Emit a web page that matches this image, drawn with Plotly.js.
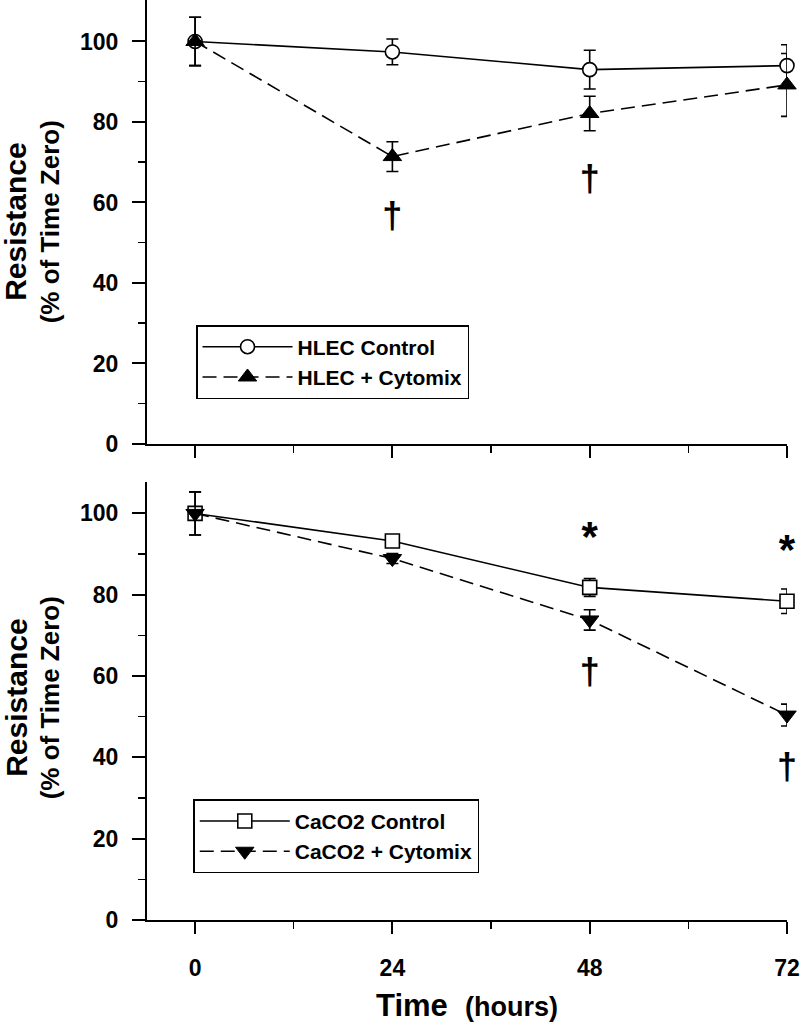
<!DOCTYPE html>
<html><head><meta charset="utf-8">
<script src="https://cdn.plot.ly/plotly-3.0.1.min.js"></script>
<style>html,body{margin:0;padding:0;background:#fff}</style>
</head><body><div id="chart" style="width:800px;height:1026px"></div>
<script>
// ---- data ----
const hours = [0, 24, 48, 72];
const hlecControl = [100, 97.4, 93.0, 94.0];
const hlecControlErr = [6.0, 3.2, 4.8, 5.2];
const hlecCytomix = [100, 71.4, 82.1, 89.2];
const hlecCytomixErr = [6.0, 3.7, 4.3, 7.8];
const cacoControl = [100, 93.2, 81.8, 78.4];
const cacoControlErr = [5.3, 0.8, 2.2, 3.0];
const cacoCytomix = [100, 88.9, 73.8, 50.4];
const cacoCytomixErr = [5.3, 1.2, 2.5, 2.7];
const topDaggerX = [24, 48];
const topDaggerY = [56.0, 65.1];
const botDaggerX = [48, 72];
const botDaggerY = [60.2, 37.0];
const botStarX = [48, 72];
const botStarY = [93.3, 90.2];
const xTicks = [0, 24, 48, 72];
const xMinor = [12, 36, 60];
const yTicks = [0, 20, 40, 60, 80, 100];
const yMinor = [10, 30, 50, 70, 90];

const FONT = 'Liberation Sans, Arial, Helvetica, sans-serif';
function err(a){return {type:'data', array:a, visible:true, color:'#000', thickness:1.6, width:6};}

const traces = [
  {x:hours, y:hlecControl, name:'HLEC Control', xaxis:'x', yaxis:'y', legend:'legend',
   mode:'lines+markers', line:{color:'#000', width:1.6},
   marker:{symbol:'circle', size:14, color:'#fff', line:{color:'#000', width:1.6}},
   error_y:err(hlecControlErr), cliponaxis:false},
  {x:hours, y:hlecCytomix, name:'HLEC + Cytomix', xaxis:'x', yaxis:'y', legend:'legend',
   mode:'lines+markers', line:{color:'#000', width:1.6, dash:'14px,7px'},
   marker:{symbol:'triangle-up', size:16, color:'#000', line:{color:'#000', width:1}},
   error_y:err(hlecCytomixErr), cliponaxis:false},
  {x:topDaggerX, y:topDaggerY, xaxis:'x', yaxis:'y', mode:'text', text:topDaggerX.map(()=>'†'),
   textfont:{family:FONT, size:36, weight:'bold', color:'#000000'}, showlegend:false, cliponaxis:false, hoverinfo:'skip'},
  {x:hours, y:cacoControl, name:'CaCO2 Control', xaxis:'x2', yaxis:'y2', legend:'legend2',
   mode:'lines+markers', line:{color:'#000', width:1.6},
   marker:{symbol:'square', size:14, color:'#fff', line:{color:'#000', width:1.6}},
   error_y:err(cacoControlErr), cliponaxis:false},
  {x:hours, y:cacoCytomix, name:'CaCO2 + Cytomix', xaxis:'x2', yaxis:'y2', legend:'legend2',
   mode:'lines+markers', line:{color:'#000', width:1.6, dash:'14px,7px'},
   marker:{symbol:'triangle-down', size:16, color:'#000', line:{color:'#000', width:1}},
   error_y:err(cacoCytomixErr), cliponaxis:false},
  {x:botDaggerX, y:botDaggerY, xaxis:'x2', yaxis:'y2', mode:'text', text:botDaggerX.map(()=>'†'),
   textfont:{family:FONT, size:36, weight:'bold', color:'#000000'}, showlegend:false, cliponaxis:false, hoverinfo:'skip'},
  {x:botStarX, y:botStarY, xaxis:'x2', yaxis:'y2', mode:'text', text:botStarX.map(()=>'*'),
   textfont:{family:FONT, size:42, weight:'bold', color:'#000000'}, showlegend:false, cliponaxis:false, hoverinfo:'skip'}
];

function xax(anchor, labels){
  return {anchor:anchor, domain:[0,1], range:[-5.85,72], showline:true, linecolor:'#000', linewidth:2,
    ticks:'outside', ticklen:12, tickwidth:2, tickcolor:'#000', tickmode:'array', tickvals:xTicks,
    showticklabels:labels, tickfont:{family:FONT, size:23, weight:'bold', color:'#000'}, ticklabelstandoff:14,
    showgrid:false, zeroline:false,
    minor:{tickmode:'array', tickvals:xMinor, ticks:'outside', ticklen:7, tickwidth:1.5, tickcolor:'#000', showgrid:false}};
}
function yax(anchor, domain, range){
  return {anchor:anchor, domain:domain, range:range, showline:true, linecolor:'#000', linewidth:2,
    ticks:'outside', ticklen:13, tickwidth:2, tickcolor:'#000', tickmode:'array', tickvals:yTicks,
    tickfont:{family:FONT, size:23, weight:'bold', color:'#000'}, ticklabelstandoff:9,
    showgrid:false, zeroline:false,
    minor:{tickmode:'array', tickvals:yMinor, ticks:'outside', ticklen:7, tickwidth:1.5, tickcolor:'#000', showgrid:false}};
}
const legendBase = {xanchor:'left', yanchor:'top', bordercolor:'#000', borderwidth:1.5, bgcolor:'#fff',
  font:{family:FONT, size:21, weight:'bold', color:'#000'}, itemwidth:90, tracegroupgap:0};

const layout = {
  width:800, height:1026, margin:{l:147, r:13, t:0, b:106},
  paper_bgcolor:'#fff', plot_bgcolor:'#fff', font:{family:FONT, color:'#000'},
  xaxis:xax('y', false), yaxis:yax('x', [0.5174,1], [0,110.3]),
  xaxis2:xax('y2', true), yaxis2:yax('x2', [0,0.4764], [0,107.8]),
  legend:Object.assign({x:0.0766, y:0.6467}, legendBase),
  legend2:Object.assign({x:0.0723, y:0.1312}, legendBase),
  annotations:[
    {xref:'paper', yref:'paper', x:-0.205, y:0.7587, text:'Resistance', textangle:-90, showarrow:false,
     xanchor:'center', yanchor:'middle', font:{family:FONT, size:30, weight:'bold'}},
    {xref:'paper', yref:'paper', x:-0.151, y:0.7587, text:'(% of Time Zero)', textangle:-90, showarrow:false,
     xanchor:'center', yanchor:'middle', font:{family:FONT, size:26, weight:'bold'}},
    {xref:'paper', yref:'paper', x:-0.205, y:0.2413, text:'Resistance', textangle:-90, showarrow:false,
     xanchor:'center', yanchor:'middle', font:{family:FONT, size:30, weight:'bold'}},
    {xref:'paper', yref:'paper', x:-0.151, y:0.2413, text:'(% of Time Zero)', textangle:-90, showarrow:false,
     xanchor:'center', yanchor:'middle', font:{family:FONT, size:26, weight:'bold'}},
    {xref:'paper', yref:'paper', x:0.5, y:-0.0924, text:'Time  <span style="font-size:27px">(hours)</span>', showarrow:false,
     xanchor:'center', yanchor:'middle', font:{family:FONT, size:31, weight:'bold'}}
  ],
  showlegend:true
};
Plotly.newPlot('chart', traces, layout, {staticPlot:true, displayModeBar:false});
</script></body></html>
